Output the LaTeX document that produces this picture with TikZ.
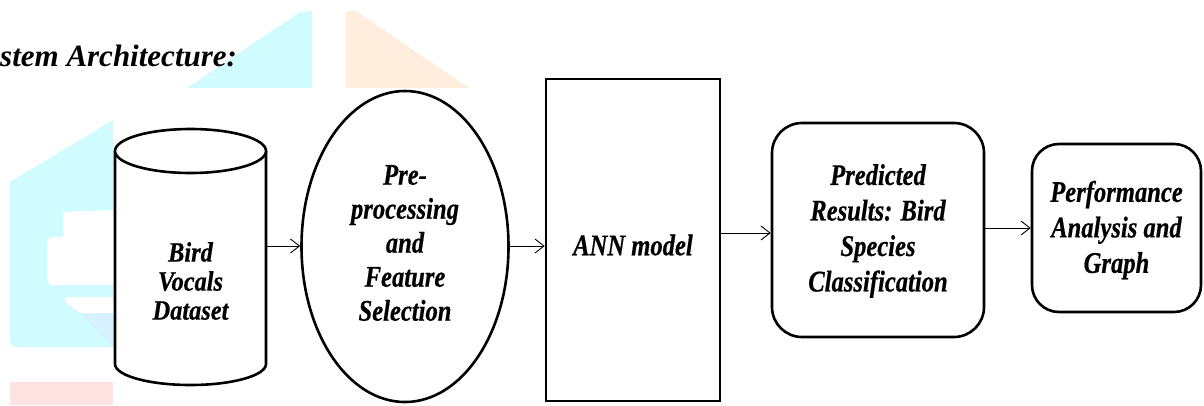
\documentclass[tikz,border=0pt]{standalone}
\usepackage{fontspec}
\setmainfont{Liberation Serif}
\newfontfamily\cond[FakeStretch=0.82, BoldItalicFeatures={FakeBold=0.5}]{Liberation Serif}
\newfontfamily\condb[FakeStretch=0.87, BoldItalicFeatures={FakeBold=0.5}]{Liberation Serif}
\usetikzlibrary{arrows.meta,shapes.geometric}
\definecolor{wmcyan}{RGB}{208,252,255}
\definecolor{wmcyanb}{RGB}{214,242,255}
\definecolor{wmorange}{RGB}{255,237,222}
\definecolor{wmpink}{RGB}{255,226,226}
\tikzset{
  bord/.style={line width=2.6pt},
  lbl/.style={align=center, inner sep=0pt, font=\cond\bfseries\itshape\fontsize{30}{34}\selectfont},
  arr/.style={line width=0.9pt, -{Straight Barb[length=9pt,width=14pt,line width=0.9pt]}},
}
\begin{document}
\begin{tikzpicture}[x=1pt,y=-1pt]
\useasboundingbox (0,0) rectangle (1204,405);
% watermark
\fill[wmcyan] (187,88) -- (300,12) -- (312,11) -- (312,88) -- cycle;
\fill[wmorange] (346,11) -- (356,11) -- (469,88) -- (346,88) -- cycle;
\fill[wmcyan] (10,340) -- (10,182) -- (113,120) -- (113,210) -- (63,212) -- (63,237) -- (52,237) to[out=180,in=90] (47,245) -- (47,278) to[out=270,in=180] (52,285) -- (113,285) -- (113,297) -- (65,297) -- (65,302) -- (80,313) -- (113,313) -- (113,347) -- (17,347) to[out=180,in=270] (10,340) -- cycle;
\fill[wmcyanb] (80,313) -- (113,313) -- (113,347) -- cycle;
\fill[wmpink] (10,382) rectangle (113,405);
% title
\node[anchor=base west, inner sep=0pt, font=\bfseries\itshape\fontsize{31}{34}\selectfont] (title) at (0,66) {stem Architecture:};
% cylinder
\node[minimum width=151pt, minimum height=255pt, inner sep=0pt] (data) at (190.5,257.5) {};
\draw[bord, fill=white] (115,151) -- (115,364) arc[start angle=180, end angle=360, x radius=75.5pt, y radius=21pt] -- (266,151);
\draw[bord, fill=white] (190.5,151) ellipse[x radius=75.5pt, y radius=22pt];
\node[lbl, font=\condb\bfseries\itshape\fontsize{28}{29}\selectfont] (datatxt) at (190.5,281) {Bird\\Vocals\\Dataset};
% ellipse
\node[bord, draw, ellipse, minimum width=207pt, minimum height=311pt, inner sep=0pt] (pre) at (405,246.5) {};
\node[lbl] (pretxt) at (405,243) {Pre-\\processing\\and\\Feature\\Selection};
% ANN
\node[bord, draw, minimum width=174pt, minimum height=322pt, inner sep=0pt] (ann) at (633,240) {};
\node[lbl] (anntxt) at (633,245) {ANN model};
% predicted
\node[bord, draw, rounded corners=30pt, minimum width=212pt, minimum height=214pt, inner sep=0pt] (pred) at (878,230) {};
\node[lbl, font=\cond\bfseries\itshape\fontsize{30}{35.5}\selectfont] (predtxt) at (878,231) {Predicted\\Results: Bird\\Species\\Classification};
% performance
\node[bord, draw, rounded corners=27pt, minimum width=169pt, minimum height=168pt, inner sep=0pt] (perf) at (1116.5,228) {};
\node[lbl, font=\cond\bfseries\itshape\fontsize{30}{35.5}\selectfont] (perftxt) at (1116.5,230) {Performance\\Analysis and\\Graph};
% arrows
\coordinate (a1) at (0,246);
\coordinate (a2) at (0,246);
\coordinate (a3) at (0,233);
\coordinate (a4) at (0,228);
\draw[arr] (data.east |- a1) -- (pre.west |- a1);
\draw[arr] (pre.east |- a2) -- (ann.west |- a2);
\draw[arr] (ann.east |- a3) -- (pred.west |- a3);
\draw[arr] (pred.east |- a4) -- (perf.west |- a4);
\end{tikzpicture}
\end{document}
